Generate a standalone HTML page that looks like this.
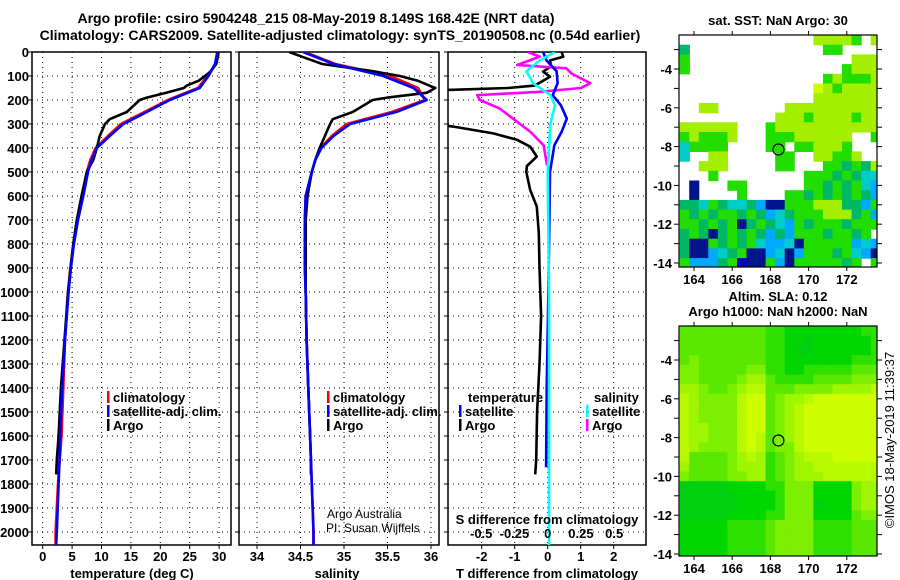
<!DOCTYPE html>
<html><head><meta charset="utf-8"><style>
html,body{margin:0;padding:0;background:#fff;}
svg{display:block;font-family:"Liberation Sans",sans-serif;}
.b{font-weight:bold;font-size:13px;}
</style></head><body>
<svg id="c" width="900" height="580" viewBox="0 0 900 580">
<text x="316" y="23" text-anchor="middle" class="b" style="font-size:14px">Argo profile: csiro 5904248_215 08-May-2019 8.149S 168.42E (NRT data)</text>
<text x="340" y="40" text-anchor="middle" class="b" style="font-size:14px">Climatology: CARS2009. Satellite-adjusted climatology: synTS_20190508.nc (0.54d earlier)</text>
</svg>
<script>
// ---------- DATA ----------
const depthClim=[0,50,100,150,200,250,300,350,400,450,500,600,700,800,900,1000,1200,1400,1600,1800,2000,2054];
const tempSat=[29.7,29.3,28.2,26.7,21.6,17.7,13.7,11.4,9.2,8.3,7.7,6.9,6.0,5.3,4.8,4.4,3.8,3.3,3.0,2.7,2.4,2.3];
const tempClim=[29.8,29.4,28.0,26.4,21.3,17.3,13.3,11.1,9.0,8.1,7.5,6.8,5.9,5.2,4.7,4.3,3.8,3.5,3.2,2.6,2.2,2.2];
const salSat=[34.53,34.88,35.45,35.8,35.95,35.6,35.07,34.88,34.74,34.67,34.63,34.56,34.55,34.55,34.55,34.56,34.57,34.59,34.61,34.63,34.65,34.65];
const salClim=[34.55,34.9,35.53,35.85,35.93,35.55,35.03,34.86,34.73,34.67,34.63,34.56,34.55,34.55,34.55,34.56,34.57,34.59,34.61,34.63,34.65,34.65];
const depthArgo=[0,20,50,80,100,120,140,150,170,190,200,250,280,300,350,400,450,500,600,700,800,1000,1200,1400,1600,1700,1760];
const tempArgo=[29.9,29.8,29.5,28.6,27.6,26.5,24.5,24,21,17.7,16.5,14.3,11.4,10.6,9.7,9.2,8.6,7.5,6.6,5.8,5.2,4.3,3.7,3.1,2.7,2.4,2.3];
const salArgo=[34.37,34.52,34.75,35.33,35.64,35.85,35.98,36.05,35.95,35.5,35.33,35.1,34.87,34.84,34.78,34.72,34.67,34.63,34.58,34.56,34.56,34.56,34.57,34.59,34.61,34.62,34.62];
const depthDTArgo=[0,20,35,60,82,103,130,140,150,160,170,300,310,339,366,394,436,475,500,575,644,755,900,1100,1300,1500,1700,1760];
const dTArgo=[0.42,0.47,0.07,0.1,-0.14,0.07,-0.27,-0.4,-1.2,-3.5,-3.5,-3.5,-2.9,-1.65,-0.93,-0.53,-0.33,-0.63,-0.65,-0.53,-0.33,-0.27,-0.25,-0.2,-0.25,-0.32,-0.35,-0.38];
const depthDTSat=[0,35,80,130,180,222,278,333,389,500,700,1000,1400,1730];
const dTSat=[-0.14,-0.04,0.27,0.3,0.15,0.4,0.58,0.42,0.2,0.07,0.05,0.02,-0.03,-0.05];
const depthDSSat=[0,35,80,130,180,222,300,500,1000,1500,2054];
const dSSat=[0.055,-0.06,-0.16,-0.11,0.02,0.055,0.02,0,0.01,0.01,0.01];
const depthDSArgo=[0,19,54,68,90,130,150,166,180,200,236,278,333,389,472];
const dSArgo=[-0.15,-0.06,-0.23,0.14,0.18,0.32,0.25,-0.06,-0.53,-0.51,-0.36,-0.26,-0.13,-0.03,-0.005];
const depthTicks=[0,100,200,300,400,500,600,700,800,900,1000,1100,1200,1300,1400,1500,1600,1700,1800,1900,2000];
const tempTicks=[0,5,10,15,20,25,30];
const salTicks=[34,34.5,35,35.5,36];
const salTickLabels=["34","34.5","35","35.5","36"];
const dTTicks=[-2,-1,0,1,2];
const dSTicks=[-0.5,-0.25,0,0.25,0.5];
const dSTickLabels=["-0.5","-0.25","0","0.25","0.5"];
const lonTicks=[164,166,168,170,172];
const latTicks=[-4,-6,-8,-10,-12,-14];
const argoLon=168.42, argoLat=-8.149;
const sstRows=[
"              yyyyg y",
"c              gg    ",
"g                 yyy",
"g                gyyy",
"               gygggy",
"              Yygyyyy",
"              yyyyyyy",
"  yy       yyyyyyyyyy",
"          yyygyyyygyy",
"yyyyyy   gyyyyyyyyyyy",
"gygggy   gggyyyyyy  g",
"tgggg    gg ggyyyg   ",
"t  yy     gg  yyggy  ",
"  yyy     gg   ggcgcy",
"   g         gggcgctt",
" d   gg      ggcgcgtb",
" d    g    ggcgcgcgcb",
"cctgcttcbddgggyyyccbg",
"gcgcggcgcbtcgggyyycgb",
"ggcgcgdcgctbgcgggcggg",
"cgcdcgcgcbcbgggcggcg ",
"cddgcgcgtbbtdgggggbtb",
"cddbtcgddbtdbgggcgtbd",
"gbbbcgDddgbdgggggcg g"];
const slaRows=[
"444444444332222222233",
"444444444332212222223",
"444444444332112222223",
"454444444332222222333",
"554444455332233333444",
"554444566433334444555",
"665445677444555566667",
"765555788456678888888",
"765555788456788888888",
"765555788456788888888",
"766555788456788888888",
"766555787456788888888",
"765555787455788888888",
"744445676345677788888",
"644445666345667777777",
"544445566345666777777",
"111112222335552222566",
"111111222235552222566",
"111111222235551222566",
"111112222335552222455",
"222223333455553333444",
"222223333455553333444",
"222223333455553333444",
"222223333455553333444"];
// ---------- HELPERS ----------
const NS="http://www.w3.org/2000/svg", svg=document.getElementById('c');
function mk(tag,attrs,parent){const e=document.createElementNS(NS,tag);for(const k in attrs)e.setAttribute(k,attrs[k]);(parent||svg).appendChild(e);return e;}
const Y0=52, YB=545, yD=d=>Y0+d*0.24;
const P1={l:32,r:231}, P2={l:239,r:439}, P3={l:448,r:646};
const xT=t=>42.7+t*5.88, xS=s=>257+(s-34)*87, xDT=d=>547.7+d*33, xDS=d=>547.7+d*133;
function line(xs,ys,xf,col,clip,name){
  const pts=xs.map((v,i)=>xf(v).toFixed(1)+','+yD(ys[i]).toFixed(1)).join(' ');
  const p=mk('polyline',{points:pts,fill:'none',stroke:col,'stroke-width':2.6,'stroke-linejoin':'round'});
  if(clip)p.setAttribute('clip-path','url(#'+clip+')');
  
  
}
const defs=mk('defs',{});
[['cp1',P1],['cp2',P2],['cp3',P3]].forEach(([id,P])=>{const c=mk('clipPath',{id},defs);mk('rect',{x:P.l,y:Y0,width:P.r-P.l,height:YB-Y0},c);});
function txt(x,y,s,anchor,cls,name,extra){const t=mk('text',Object.assign({x,y,'text-anchor':anchor||'start'},extra||{}));if(cls)t.setAttribute('class',cls);t.textContent=s;
  
  return t;}
function panel(P,name,xticks,xf,xlabels,vgrid){
  const g=mk('g',{});
  
  
  depthTicks.forEach(d=>{mk('line',{x1:P.l,x2:P.r,y1:yD(d),y2:yD(d),stroke:'#000','stroke-width':1,'stroke-dasharray':'1,4'},g);
    mk('line',{x1:P.l-4,x2:P.l,y1:yD(d),y2:yD(d),stroke:'#000'},g);});
  vgrid.forEach(v=>{mk('line',{x1:xf(v),x2:xf(v),y1:Y0,y2:YB,stroke:'#000','stroke-width':1,'stroke-dasharray':'1,4'},g);});
  xticks.forEach((v,i)=>{mk('line',{x1:xf(v),x2:xf(v),y1:YB,y2:YB+4,stroke:'#000'},g);
    if(xlabels)txt(xf(v),561,xlabels[i],'middle','b','x-tick-label',null);});
  const f=mk('rect',{x:P.l,y:Y0,width:P.r-P.l,height:YB-Y0,fill:'none',stroke:'#000','stroke-width':1.5},g);
  
  
}
// ---------- PANEL 1 ----------
panel(P1,'temperature-panel',tempTicks,xT,tempTicks.map(String),tempTicks);
depthTicks.forEach(d=>txt(29,yD(d)+5,String(d),'end','b','depth-tick-label'));
line(tempClim,depthClim,xT,'#ff0000','cp1','temp-climatology-line');
line(tempArgo,depthArgo,xT,'#000','cp1','temp-argo-line');
line(tempSat,depthClim,xT,'#0000ff','cp1','temp-satellite-line');
txt(132,578,'temperature (deg C)','middle','b','temperature-axis-title');
// ---------- PANEL 2 ----------
panel(P2,'salinity-panel',salTicks,xS,salTickLabels,salTicks);
line(salClim,depthClim,xS,'#ff0000','cp2','sal-climatology-line');
line(salArgo,depthArgo,xS,'#000','cp2','sal-argo-line');
line(salSat,depthClim,xS,'#0000ff','cp2','sal-satellite-line');
txt(337,578,'salinity','middle','b','salinity-axis-title');
txt(327,518,'Argo Australia','start',null,'credit-argo-australia',{'font-size':'12px'});
txt(326,532,'PI: Susan Wijffels','start',null,'credit-pi',{'font-size':'12px'});
[[107,'legend-temperature'],[327,'legend-salinity']].forEach(([x,n])=>{
  [['climatology','#f00',402],['satellite-adj. clim.','#00f',416],['Argo','#000',430]].forEach(([s,c,y])=>{
    const r=mk('rect',{x:x,y:y-11,width:2.5,height:12,fill:c});
    
    
    txt(x+6,y,s,'start','b',n+'-entry');
  });
});
// ---------- PANEL 3 ----------
panel(P3,'difference-panel',dTTicks,xDT,dTTicks.map(String),dTTicks);
line(dTArgo,depthDTArgo,xDT,'#000','cp3','dT-argo-line');
line(dSArgo,depthDSArgo,xDS,'#ff00ff','cp3','dS-argo-line');
line(dTSat,depthDTSat,xDT,'#0000ff','cp3','dT-satellite-line');
line(dSSat,depthDSSat,xDS,'#00ffff','cp3','dS-satellite-line');
txt(547,524,'S difference from climatology','middle','b','s-diff-axis-title');
dSTicks.forEach((v,i)=>txt(xDS(v),538,dSTickLabels[i],'middle','b','s-diff-tick-label'));
txt(547,578,'T difference from climatology','middle','b','t-diff-axis-title');
txt(468,402,'temperature','start','b','legend-diff-temperature-header');
txt(594,402,'salinity','start','b','legend-diff-salinity-header');
[[461,'#00f','satellite',416],[461,'#000','Argo',430],[588,'#0ff','satellite',416],[588,'#f0f','Argo',430]].forEach(([x,c,s,y])=>{
  const r=mk('rect',{x:x-2,y:y-11,width:2.5,height:12,fill:c});
  
  
  txt(x+4,y,s,'start','b','legend-diff-entry');
});
// ---------- MAPS ----------
const lon0=163.25, lonPx=19.1, mapL=679, mapR=877;
const mx=lon=>694+(lon-164)*lonPx;
const sstCol={y:'#a4ee00',Y:'#ccff00',g:'#22dd00',G:'#00cc00',c:'#00b866',t:'#00cccc',b:'#00aaff',d:'#00148c',D:'#0000c8'};
function slaColor(v){const st=[[0,[0,200,30]],[2,[0,215,0]],[4,[90,232,0]],[6,[160,245,0]],[8,[205,255,0]],[9,[225,255,0]]];
  for(let i=0;i<st.length-1;i++){if(v<=st[i+1][0]){const f=(v-st[i][0])/(st[i+1][0]-st[i][0]);const a=st[i][1],b=st[i+1][1];return 'rgb('+a.map((x,k)=>Math.round(x+(b[k]-x)*f)).join(',')+')';}}return 'rgb(225,255,0)';}
function map(top,bottom,lat4y,lat14y,rows,colorFn,name){
  const my=lat=>lat4y+(-4-lat)*(lat14y-lat4y)/10;
  const latTop=-4+(lat4y-top)/((lat14y-lat4y)/10);
  const g=mk('g',{});
  
  
  const cp=mk('clipPath',{id:name+'-clip'},defs);mk('rect',{x:mapL,y:top,width:mapR-mapL,height:bottom-top},cp);
  const cells=mk('g',{'clip-path':'url(#'+name+'-clip)'},g);
  rows.forEach((row,r)=>{for(let c=0;c<row.length;c++){const col=colorFn(row[c]);if(!col)continue;
    const x=mx(lon0+c*0.5), y=my(latTop-r*0.5);
    const e=mk('rect',{x:x.toFixed(1),y:y.toFixed(1),width:(mx(lon0+c*0.5+0.5)-x+0.6).toFixed(1),height:(my(latTop-r*0.5-0.5)-y+0.6).toFixed(1),fill:col},cells);
    
    }});
  mk('rect',{x:mapL,y:top,width:mapR-mapL,height:bottom-top,fill:'none',stroke:'#000','stroke-width':1.2},g);
  for(let lat=-3;lat>=-14;lat--){const y=my(lat);mk('line',{x1:mapL-5,x2:mapL,y1:y,y2:y,stroke:'#000'},g);mk('line',{x1:mapR,x2:mapR+5,y1:y,y2:y,stroke:'#000'},g);}
  lonTicks.forEach(l=>{mk('line',{x1:mx(l),x2:mx(l),y1:bottom,y2:bottom+4,stroke:'#000'},g);mk('line',{x1:mx(l),x2:mx(l),y1:top-4,y2:top,stroke:'#000'},g);
    txt(mx(l),bottom+17,String(l),'middle','b','map-lon-label');});
  latTicks.forEach(l=>txt(mapL-7,my(l)+5,String(l),'end','b','map-lat-label'));
  const c=mk('circle',{cx:mx(argoLon),cy:my(argoLat),r:5.5,fill:'none',stroke:'#000','stroke-width':1.2},g);
  
  
}
map(35,267,69,263,sstRows,ch=>sstCol[ch]||null,'sst-map');
map(326,556,360,554,slaRows,ch=>slaColor(+ch),'sla-map');
txt(778,25,'sat. SST: NaN Argo: 30','middle','b','sst-map-title',{'font-size':'12px'});
txt(778,301,'Altim. SLA: 0.12','middle','b','sla-map-title',{'font-size':'12px'});
txt(778,316,'Argo h1000: NaN h2000: NaN','middle','b','sla-map-subtitle',{'font-size':'12px'});
txt(0,0,'©IMOS 18-May-2019 11:39:37','middle',null,'timestamp-credit',{'font-size':'13px',transform:'translate(894,440) rotate(-90)'});
</script>
</body></html>
